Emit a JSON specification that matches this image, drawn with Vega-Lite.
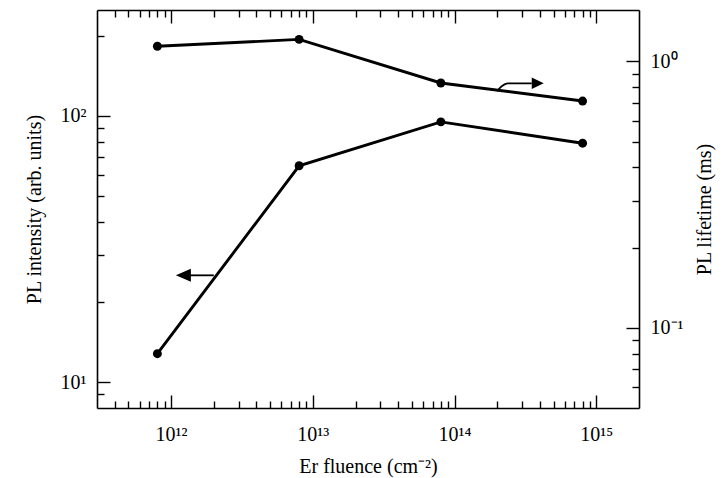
{
  "$schema": "https://vega.github.io/schema/vega-lite/v6.json",
  "width": 542,
  "height": 398,
  "autosize": "none",
  "padding": {"left": 97, "top": 10, "right": 88, "bottom": 70},
  "background": "white",
  "config": {
    "view": {"stroke": null},
    "axis": {
      "labelFont": "Liberation Serif",
      "titleFont": "Liberation Serif",
      "labelFontSize": 20,
      "titleFontSize": 20,
      "titleFontWeight": "normal",
      "labelColor": "black",
      "titleColor": "black",
      "domainColor": "black",
      "tickColor": "black",
      "domainWidth": 1.6,
      "tickWidth": 1.4,
      "grid": false,
      "labelOverlap": false,
      "labelFlush": false
    }
  },
  "datasets": {
    "intensity": [
      {"x": 8e11, "y": 12.8},
      {"x": 8e12, "y": 65},
      {"x": 8e13, "y": 95},
      {"x": 8e14, "y": 79}
    ],
    "lifetime": [
      {"x": 8e11, "y": 1.14},
      {"x": 8e12, "y": 1.21},
      {"x": 8e13, "y": 0.83},
      {"x": 8e14, "y": 0.71}
    ],
    "arrowL": [
      {"x": 1.22e12, "y": 25.2},
      {"x": 2.0e12, "y": 25.2}
    ],
    "headL": [
      {"x": 1.22e12, "y": 25.2}
    ],
    "arrowR": [
      {"x": 1.99e14, "y": 0.773},
      {"x": 2.15e14, "y": 0.807},
      {"x": 2.37e14, "y": 0.828},
      {"x": 3.5e14, "y": 0.828}
    ],
    "headR": [
      {"x": 3.86e14, "y": 0.828}
    ]
  },
  "layer": [
    {
      "encoding": {
        "x": {
          "field": "x",
          "type": "quantitative",
          "scale": {"type": "log", "domain": [3e11, 2e15], "nice": false},
          "axis": {
            "orient": "bottom",
            "title": "Er fluence (cm⁻²)",
            "values": [4e11, 5e11, 6e11, 7e11, 8e11, 9e11, 1e12, 2e12, 3e12, 4e12, 5e12, 6e12, 7e12, 8e12, 9e12, 1e13, 2e13, 3e13, 4e13, 5e13, 6e13, 7e13, 8e13, 9e13, 1e14, 2e14, 3e14, 4e14, 5e14, 6e14, 7e14, 8e14, 9e14, 1e15],
            "tickSize": {"condition": {"test": "datum.value==1e12||datum.value==1e13||datum.value==1e14||datum.value==1e15", "value": -13}, "value": -7},
            "labelPadding": 29,
            "labelExpr": "datum.value==1e12?'10¹²':datum.value==1e13?'10¹³':datum.value==1e14?'10¹⁴':datum.value==1e15?'10¹⁵':''",
            "titleX": 271,
            "titleY": 58,
            "titleBaseline": "middle",
            "titleAlign": "center"
          }
        },
        "y": {
          "field": "y",
          "type": "quantitative",
          "scale": {"type": "log", "domain": [8, 250], "nice": false},
          "axis": {
            "orient": "left",
            "title": "PL intensity (arb. units)",
            "values": [9, 10, 20, 30, 40, 50, 60, 70, 80, 90, 100, 200],
            "tickSize": {"condition": {"test": "datum.value==10||datum.value==100", "value": -13}, "value": -7},
            "labelPadding": 24,
            "labelExpr": "datum.value==10?'10¹':datum.value==100?'10²':''",
            "titleAngle": 270,
            "titleX": -63,
            "titleY": 199,
            "titleBaseline": "middle",
            "titleAlign": "center"
          }
        }
      },
      "layer": [
        {"data": {"name": "intensity"}, "mark": {"type": "line", "color": "black", "strokeWidth": 2.9}},
        {"data": {"name": "intensity"}, "mark": {"type": "point", "filled": true, "color": "black", "size": 80, "opacity": 1}},
        {"data": {"name": "arrowL"}, "mark": {"type": "line", "color": "black", "strokeWidth": 1.8}},
        {"data": {"name": "headL"}, "mark": {"type": "point", "shape": "M-1,0L1,-0.87L1,0.87Z", "filled": true, "color": "black", "size": 225, "opacity": 1}}
      ]
    },
    {
      "encoding": {
        "x": {
          "field": "x",
          "type": "quantitative",
          "scale": {"type": "log", "domain": [3e11, 2e15], "nice": false},
          "axis": {
            "orient": "top",
            "title": null,
            "values": [4e11, 5e11, 6e11, 7e11, 8e11, 9e11, 1e12, 2e12, 3e12, 4e12, 5e12, 6e12, 7e12, 8e12, 9e12, 1e13, 2e13, 3e13, 4e13, 5e13, 6e13, 7e13, 8e13, 9e13, 1e14, 2e14, 3e14, 4e14, 5e14, 6e14, 7e14, 8e14, 9e14, 1e15],
            "tickSize": {"condition": {"test": "datum.value==1e12||datum.value==1e13||datum.value==1e14||datum.value==1e15", "value": -13}, "value": -7},
            "labels": false
          }
        },
        "y": {
          "field": "y",
          "type": "quantitative",
          "scale": {"type": "log", "domain": [0.05, 1.56], "nice": false},
          "axis": {
            "orient": "right",
            "title": "PL lifetime (ms)",
            "values": [0.06, 0.07, 0.08, 0.09, 0.1, 0.2, 0.3, 0.4, 0.5, 0.6, 0.7, 0.8, 0.9, 1],
            "tickSize": {"condition": {"test": "datum.value==0.1||datum.value==1", "value": -13}, "value": -7},
            "labelPadding": 24,
            "labelExpr": "datum.value==0.1?'10⁻¹':datum.value==1?'10⁰':''",
            "titleAngle": 270,
            "titleX": 65,
            "titleY": 199,
            "titleBaseline": "middle",
            "titleAlign": "center"
          }
        }
      },
      "layer": [
        {"data": {"name": "lifetime"}, "mark": {"type": "line", "color": "black", "strokeWidth": 2.9}},
        {"data": {"name": "lifetime"}, "mark": {"type": "point", "filled": true, "color": "black", "size": 80, "opacity": 1}},
        {"data": {"name": "arrowR"}, "mark": {"type": "line", "color": "black", "strokeWidth": 1.8, "interpolate": "monotone"}},
        {"data": {"name": "headR"}, "mark": {"type": "point", "shape": "M1,0L-1,-0.95L-1,0.95Z", "filled": true, "color": "black", "size": 144, "opacity": 1}}
      ]
    }
  ],
  "resolve": {
    "scale": {"y": "independent"},
    "axis": {"x": "independent", "y": "independent"}
  }
}
